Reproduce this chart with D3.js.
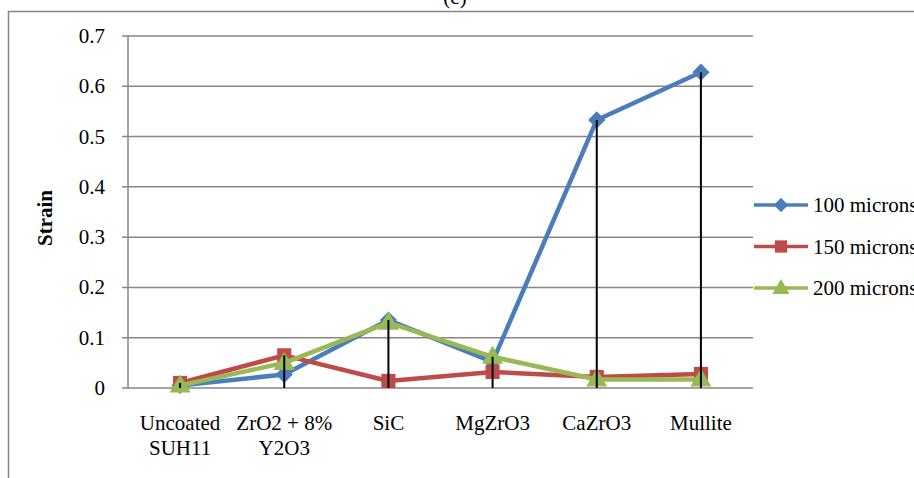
<!DOCTYPE html>
<html><head><meta charset="utf-8">
<script src="https://cdn.jsdelivr.net/npm/d3@7/dist/d3.min.js"></script>
<style>body{margin:0;background:#fff;}svg{display:block;}
svg text{font-family:"Liberation Serif","Times New Roman","DejaVu Serif",serif;font-size:21px;fill:#000;}</style>
</head><body>
<svg id="c" width="914" height="478"></svg>
<script>
const categories = [["Uncoated","SUH11"],["ZrO2 + 8%","Y2O3"],["SiC"],["MgZrO3"],["CaZrO3"],["Mullite"]];
const seriesNames = ["100 microns","150 microns","200 microns"];
const s100 = [0.005, 0.027, 0.135, 0.052, 0.533, 0.628];
const s150 = [0.010, 0.065, 0.014, 0.032, 0.022, 0.028];
const s200 = [0.005, 0.050, 0.130, 0.062, 0.017, 0.017];
const yTicks = [0,0.1,0.2,0.3,0.4,0.5,0.6,0.7];
const colors = ["#4A7EBB","#BE4B48","#98B954"];
const symbols = [d3.symbolDiamond2, d3.symbolSquare, d3.symbolTriangle];

const svg = d3.select("#c");
const L=128, R=753, T=36, B=388;
const x = d3.scaleBand().domain(d3.range(categories.length)).range([L,R]);
const y = d3.scaleLinear().domain([0,0.7]).range([B,T]);

// frame
svg.append("rect").attr("x",8.5).attr("y",11.5).attr("width",1000).attr("height",1000)
  .attr("fill","none").attr("stroke","#868686").attr("stroke-width",1.5);
svg.append("text").attr("x",455).attr("y",4).attr("text-anchor","middle").text("(c)");

// grid
svg.append("g").selectAll("line").data(yTicks).join("line")
  .attr("x1",L-6).attr("x2",R).attr("y1",d=>y(d)).attr("y2",d=>y(d))
  .attr("stroke","#868686").attr("stroke-width",1.5);
svg.append("line").attr("x1",L).attr("x2",L).attr("y1",T).attr("y2",B)
  .attr("stroke","#868686").attr("stroke-width",1.5);
svg.append("g").selectAll("text").data(yTicks).join("text")
  .attr("x",105).attr("y",d=>y(d)+7).attr("text-anchor","end").text(d=>d===0?"0":d.toFixed(1));
svg.append("text").attr("transform","translate(52,218) rotate(-90)").attr("text-anchor","middle")
  .style("font-weight","bold").text("Strain");

// x labels
const xl = svg.append("g").selectAll("text").data(categories).join("text")
  .attr("text-anchor","middle");
xl.each(function(lines,i){
  d3.select(this).selectAll("tspan").data(lines).join("tspan")
    .attr("x",x(i)+x.bandwidth()/2).attr("y",(d,j)=>430+j*25).text(d=>d);
});

const cx = i => x(i)+x.bandwidth()/2;
const data = [s100,s150,s200];
const line = d3.line().x((d,i)=>cx(i)).y(d=>y(d));
data.forEach((s,k)=>{
  svg.append("path").datum(s).attr("d",line).attr("fill","none")
    .attr("stroke",colors[k]).attr("stroke-width",4.5).attr("stroke-linejoin","round");
  svg.append("g").selectAll("path").data(s).join("path")
    .attr("transform",(d,i)=>`translate(${cx(i)},${y(d)+(k===2?1:0)})`)
    .attr("d",d3.symbol().type(symbols[k]).size(k===0?190:k===1?200:190))
    .attr("fill",colors[k]);
});
// drop lines
const maxes = categories.map((c,i)=>d3.max(data,s=>s[i]));
svg.append("g").selectAll("line").data(maxes).join("line")
  .attr("x1",(d,i)=>cx(i)).attr("x2",(d,i)=>cx(i)).attr("y1",d=>y(d)).attr("y2",B)
  .attr("stroke","#000").attr("stroke-width",2);

// legend
const lg = svg.append("g").selectAll("g").data(seriesNames).join("g")
  .attr("transform",(d,i)=>`translate(754,${205+i*41.5})`);
lg.append("line").attr("x1",0).attr("x2",54).attr("stroke",(d,i)=>colors[i]).attr("stroke-width",3.5);
lg.append("path").attr("transform",(d,i)=>`translate(27,${i===2?1:0})`)
  .attr("d",(d,i)=>d3.symbol().type(symbols[i]).size(i===0?130:i===1?150:130)())
  .attr("fill",(d,i)=>colors[i]);
lg.append("text").attr("x",59).attr("y",7).text(d=>d);
</script>
</body></html>
